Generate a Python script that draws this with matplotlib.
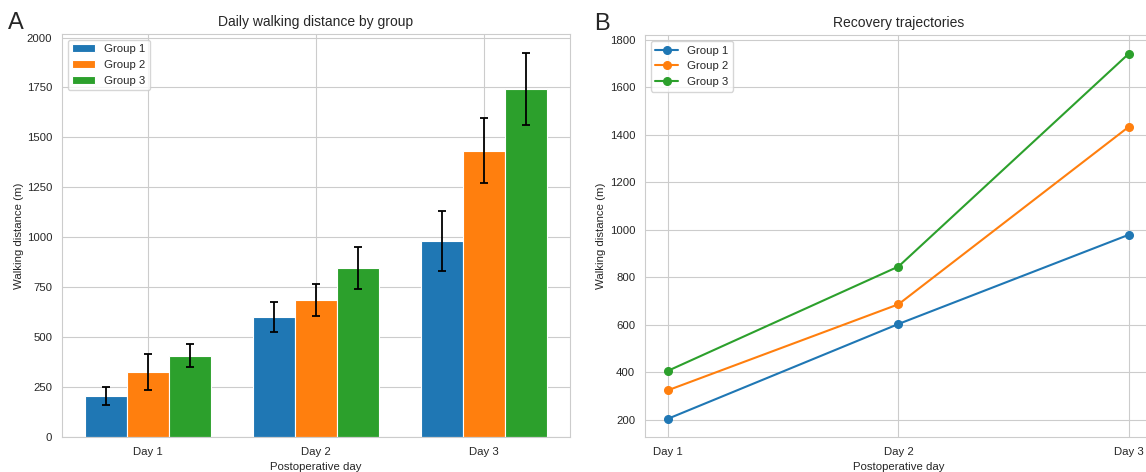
import matplotlib
matplotlib.use('Agg')
import matplotlib.pyplot as plt
import seaborn as sns
import numpy as np

sns.set_style('whitegrid')
plt.rcParams['font.family'] = ['Liberation Sans', 'DejaVu Sans']

#data
days = ['Day 1', 'Day 2', 'Day 3']
groups = ['Group 1', 'Group 2', 'Group 3']
group1_mean = [204, 603, 979]
group2_mean = [324, 686, 1434]
group3_mean = [406, 845, 1742]
group1_err = [45, 75, 150]
group2_err = [90, 78, 163]
group3_err = [57, 106, 180]

means = [group1_mean, group2_mean, group3_mean]
errs = [group1_err, group2_err, group3_err]
colors = ['#1f77b4', '#ff7f0e', '#2ca02c']

fig = plt.figure(figsize=(11.46, 4.72), dpi=100)
ax1 = fig.add_axes([0.0541, 0.0742, 0.4433, 0.854])
ax2 = fig.add_axes([0.5628, 0.0742, 0.4424, 0.851])

#Panel A - grouped bars
x = np.arange(len(days))
width = 0.25
for i in range(len(groups)):
    ax1.bar(x + (i - 1) * width, means[i], width, yerr=errs[i], color=colors[i],
            edgecolor='white', linewidth=0.8, label=groups[i],
            error_kw=dict(ecolor='black', elinewidth=1.3, capsize=2.7, capthick=1.3))
ax1.set_xticks(x)
ax1.set_xticklabels(days)
ax1.set_title('Daily walking distance by group', fontsize=10)
ax1.set_xlabel('Postoperative day', fontsize=8.2)
ax1.set_ylabel('Walking distance (m)', fontsize=8.2, labelpad=2)
ax1.tick_params(labelsize=8.2)
ax1.legend(loc='upper left', fontsize=8.2)

#Panel B - trajectories
for i in range(len(groups)):
    ax2.plot(x, means[i], marker='o', color=colors[i], linewidth=1.5, markersize=5.5, label=groups[i])
ax2.set_xticks(x)
ax2.set_xticklabels(days)
ax2.set_title('Recovery trajectories', fontsize=10)
ax2.set_xlabel('Postoperative day', fontsize=8.2)
ax2.set_ylabel('Walking distance (m)', fontsize=8.2, labelpad=2.5)
ax2.tick_params(labelsize=8.2)
ax2.legend(loc='upper left', fontsize=8.2)

fig.text(0.007, 0.975, 'A', fontsize=17, va='top', ha='left')
fig.text(0.518, 0.972, 'B', fontsize=17, va='top', ha='left')

fig.savefig('out.png', dpi=100)
